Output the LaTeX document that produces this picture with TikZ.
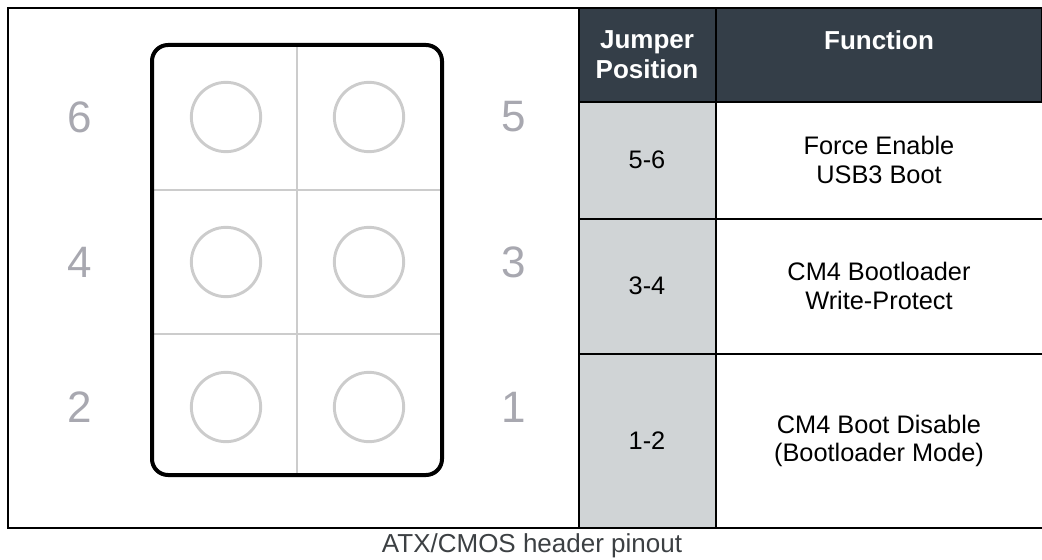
\documentclass[tikz,border=0pt]{standalone}
\usepackage{fontspec}
\setmainfont{Liberation Sans}
\usetikzlibrary{positioning}
\definecolor{headgray}{HTML}{343E48}
\definecolor{colgray}{HTML}{D0D4D6}
\definecolor{pingray}{HTML}{CCCCCC}
\definecolor{numgray}{HTML}{A8A8B0}
\definecolor{capgray}{HTML}{3C4043}

\begin{document}
\begin{tikzpicture}[x=0.75pt,y=-0.75pt,
	pin/.style={circle,draw=pingray,line width=2.2pt,minimum size=52pt,inner sep=0pt},
	pinlabel/.style={text=numgray,font=\fontsize{33}{36}\selectfont},
	head/.style={text=white,font=\fontsize{19.5}{22.5}\selectfont\bfseries,align=center,anchor=north},
	cell/.style={font=\fontsize{19}{21.5}\selectfont,align=center}]
	\useasboundingbox (0,0) rectangle (1042,560);

	\fill[colgray] (579,102) rectangle (716,528);
	\filldraw[headgray,draw=black,line width=1.5pt] (579,8) rectangle (1042,102);
	\draw[line width=1.5pt] (716,8) -- (716,528)
		(579,8) -- (579,528)
		(579,219) -- (1042,219)
		(579,354) -- (1042,354);
	\draw[line width=2.2pt] (1042,8) -- (8,8) -- (8,528) -- (1042,528);

	\draw[pingray,line width=2.2pt] (297,45) -- (297,475)
		(152,190) -- (442,190)
		(152,334) -- (442,334);
	\draw[line width=3pt,rounded corners=12pt] (152,45) rectangle (442,475);

	\foreach \r/\y/\l/\o in {1/117/6/5,2/262/4/3,3/407/2/1}{
		\node[pin] (pin\l) at (226,\y) {};
		\node[pin] (pin\o) at (369,\y) {};
		\node[pinlabel] (num\l) at (80,\y) {\l};
		\node[pinlabel] (num\o) at (514,\y) {\o};
	}

	\node[head] (jumper) at (647,26) {Jumper\\Position};
	\node[head] (function) at (879,26) {Function};

	\node[cell] (pos56) at (647,160) {5-6};
	\node[cell] (fn56) at (879,160) {Force Enable\\USB3 Boot};
	\node[cell] (pos34) at (647,286) {3-4};
	\node[cell] (fn34) at (879,286) {CM4 Bootloader\\Write-Protect};
	\node[cell] (pos12) at (647,441) {1-2};
	\node[cell] (fn12) at (879,441) {CM4 Boot Disable\\(Bootloader Mode)};

	\node[cell,text=capgray,font=\fontsize{19.5}{22}\selectfont] (caption) at (532,546) {ATX/CMOS header pinout};
\end{tikzpicture}
\end{document}
